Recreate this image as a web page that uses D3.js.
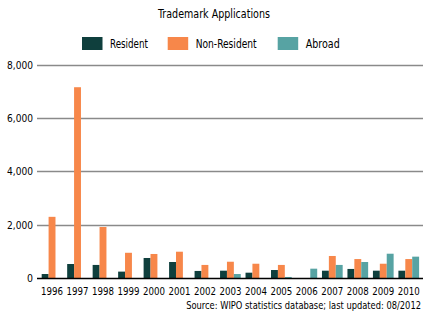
<!DOCTYPE html>
<html><head><meta charset="utf-8">
<script src="https://cdn.jsdelivr.net/npm/d3@7"></script>
<style>
body{margin:0;background:#fff;}
text{font-family:"DejaVu Sans Condensed","Liberation Sans",sans-serif;}
</style></head>
<body><svg id="c" width="428" height="323"></svg>
<script>
const years = ["1996","1997","1998","1999","2000","2001","2002","2003","2004","2005","2006","2007","2008","2009","2010"];
const series = ["Resident","Non-Resident","Abroad"];
const resident    = [160, 535, 500, 250, 760, 610, 275, 285, 210, 310, 0, 285, 350, 285, 285];
const nonResident = [2300, 7150, 1920, 955, 910, 995, 500, 620, 545, 500, 0, 835, 720, 545, 720];
const abroad      = [0, 0, 0, 0, 0, 0, 0, 160, 0, 50, 360, 500, 610, 920, 810];
const yTicks = [0, 2000, 4000, 6000, 8000];
const colors = ["#0f3f3d", "#f7874a", "#57a3a3"];
const title = "Trademark Applications";
const source = "Source: WIPO statistics database; last updated: 08/2012";

const data = years.map((y,i)=>({year:y, values:[resident[i], nonResident[i], abroad[i]]}));
const svg = d3.select("#c");
const y = d3.scaleLinear().domain([0,8000]).range([278.3,64.5]);
const x0 = d3.scaleBand().domain(years).range([39.3,421.5]).padding(0);
const step = x0.bandwidth();
const gw = 20.7;
const x1 = d3.scaleBand().domain(series).range([(step-gw)/2,(step+gw)/2]).padding(0);

// place a text at (x,y) with given anchor, horizontally scaled to width w
function fitText(sel, x, yy, anchor, w){
  sel.each(function(d,i){
    const t = d3.select(this);
    const tx = typeof x === "function" ? x(d,i) : x;
    const ty = typeof yy === "function" ? yy(d,i) : yy;
    const tw = typeof w === "function" ? w(d,i) : w;
    t.attr("x",0).attr("y",0).attr("text-anchor",anchor);
    const nat = this.getComputedTextLength();
    const s = Math.min(1, tw/nat);
    t.attr("transform",`translate(${tx},${ty}) scale(${s},1)`);
  });
}

// gridlines
svg.append("g").selectAll("line").data(yTicks.filter(d=>d>0)).join("line")
  .attr("x1",37).attr("x2",423).attr("y1",d=>Math.round(y(d))+0.5).attr("y2",d=>Math.round(y(d))+0.5)
  .attr("stroke","#8a8a8a").attr("stroke-width",1.3);

// y labels
svg.append("g").selectAll("text").data(yTicks).join("text")
  .attr("font-size",11).attr("fill","#000")
  .text(d=>d3.format(",")(d))
  .call(fitText, 33, d=>y(d)+4, "end", d=>d===0?6:26);

// bars
const g = svg.append("g").selectAll("g").data(data).join("g")
  .attr("transform",d=>`translate(${x0(d.year)},0)`);
g.selectAll("rect").data(d=>d.values.map((v,i)=>({s:series[i],v,i}))).join("rect")
  .attr("x",d=>x1(d.s)).attr("width",x1.bandwidth())
  .attr("y",d=>y(d.v)).attr("height",d=>y(0)-y(d.v))
  .attr("fill",d=>colors[d.i]);

// x axis line
svg.append("line").attr("x1",37).attr("x2",423).attr("y1",278.5).attr("y2",278.5)
  .attr("stroke","#000").attr("stroke-width",1.3);

// x labels
svg.append("g").selectAll("text").data(years).join("text")
  .attr("font-size",11).attr("fill","#000").text(d=>d)
  .call(fitText, d=>x0(d)+step/2, 294.5, "middle", 22);

// title
svg.append("text").attr("font-size",13).attr("fill","#000").text(title)
  .call(fitText, 214, 18, "middle", 112);

// legend
const legX = [82, 167.7, 277.7];
const legW = [38, 61, 34];
const lg = svg.append("g").selectAll("g").data(series).join("g")
  .attr("transform",(d,i)=>`translate(${legX[i]},37)`);
lg.append("rect").attr("width",20.5).attr("height",13).attr("fill",(d,i)=>colors[i]);
lg.append("text").attr("font-size",13).attr("fill","#000").text(d=>d)
  .each(function(d){
    const i = series.indexOf(d);
    d3.select(this).call(fitText, 28, 11.3, "start", legW[i]);
  });

// source
svg.append("text").attr("font-size",11).attr("fill","#000").text(source)
  .call(fitText, 421, 308.5, "end", 235);
</script></body></html>
